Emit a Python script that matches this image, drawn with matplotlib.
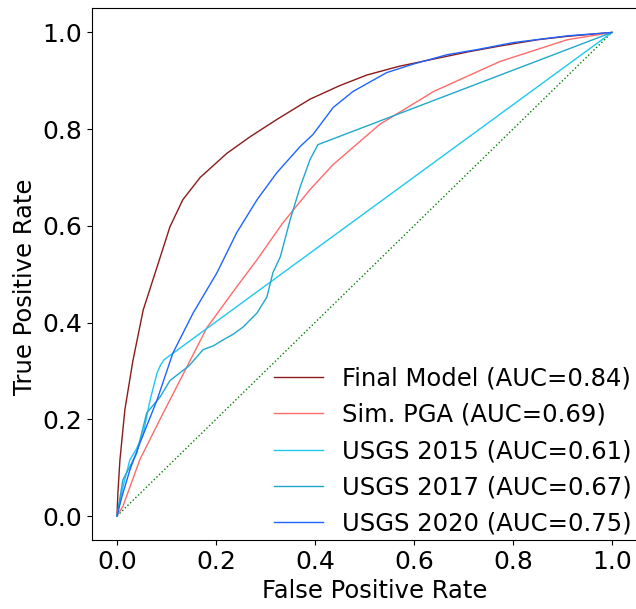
import matplotlib
matplotlib.use("Agg")
import matplotlib.pyplot as plt

# ROC curves
final_fpr = [0, 0.002, 0.006, 0.016, 0.032, 0.053, 0.081, 0.107, 0.133, 0.168, 0.222, 0.27, 0.323,
             0.39, 0.45, 0.505, 0.57, 0.64, 0.71, 0.774, 0.85, 0.91, 1.0]
final_tpr = [0, 0.05, 0.116, 0.22, 0.32, 0.426, 0.515, 0.598, 0.654, 0.70, 0.75, 0.785, 0.82,
             0.862, 0.89, 0.912, 0.93, 0.945, 0.96, 0.972, 0.985, 0.992, 1.0]

pga_fpr = [0, 0.012, 0.046, 0.087, 0.127, 0.182, 0.242, 0.283, 0.335, 0.39, 0.437, 0.531, 0.64,
           0.774, 0.91, 1.0]
pga_tpr = [0, 0.02, 0.116, 0.2, 0.28, 0.39, 0.474, 0.53, 0.606, 0.675, 0.727, 0.81, 0.878,
           0.94, 0.985, 1.0]

usgs15_fpr = [0, 0.012, 0.026, 0.04, 0.053, 0.067, 0.081, 0.088, 0.095, 1.0]
usgs15_tpr = [0, 0.06, 0.116, 0.14, 0.17, 0.24, 0.296, 0.312, 0.323, 1.0]

usgs17_fpr = [0, 0.012, 0.025, 0.04, 0.06, 0.087, 0.107, 0.127, 0.145, 0.162, 0.174, 0.195, 0.214,
              0.235, 0.255, 0.283, 0.303, 0.315, 0.33, 0.35, 0.37, 0.39, 0.406, 1.0]
usgs17_tpr = [0, 0.075, 0.1, 0.13, 0.213, 0.246, 0.28, 0.296, 0.31, 0.33, 0.344, 0.352, 0.364,
              0.376, 0.391, 0.42, 0.453, 0.503, 0.536, 0.613, 0.68, 0.737, 0.768, 1.0]

usgs20_fpr = [0, 0.01, 0.026, 0.046, 0.081, 0.113, 0.154, 0.202, 0.242, 0.283, 0.323, 0.37, 0.396,
              0.437, 0.477, 0.545, 0.6, 0.667, 0.73, 0.80, 0.91, 1.0]
usgs20_tpr = [0, 0.04, 0.095, 0.15, 0.24, 0.337, 0.42, 0.503, 0.586, 0.654, 0.71, 0.764, 0.789,
              0.845, 0.878, 0.917, 0.935, 0.954, 0.965, 0.979, 0.993, 1.0]

fig = plt.figure(figsize=(6.36, 6.09), dpi=100)
# right spine sits just past the image edge, like the reference
ax = fig.add_axes([0.145, 0.113, 0.856, 0.8734])
ax.spines['right'].set_visible(False)

ax.plot([0, 1], [0, 1], color='green', linestyle=':', linewidth=1)
ax.plot(final_fpr, final_tpr, color='#8b1a1a', linewidth=1, label='Final Model (AUC=0.84)')
ax.plot(pga_fpr, pga_tpr, color='#ff6b6b', linewidth=1, label='Sim. PGA (AUC=0.69)')
ax.plot(usgs15_fpr, usgs15_tpr, color='#1ec8f0', linewidth=1, label='USGS 2015 (AUC=0.61)')
ax.plot(usgs17_fpr, usgs17_tpr, color='#1fa8cc', linewidth=1, label='USGS 2017 (AUC=0.67)')
ax.plot(usgs20_fpr, usgs20_tpr, color='#1e64ff', linewidth=1, label='USGS 2020 (AUC=0.75)')
ax.set_xlim(-0.05, 1.05)
ax.set_ylim(-0.05, 1.05)

ax.set_xlabel('False Positive Rate', fontsize=17.5)
ax.set_ylabel('True Positive Rate', fontsize=17.5)
ax.xaxis.label.set_x(0.519)
ax.yaxis.label.set_y(0.477)
ax.tick_params(labelsize=18)
ax.legend(loc='lower right', fontsize=17.5, frameon=False, borderpad=0.1, borderaxespad=0.1)

fig.savefig('out.png')
